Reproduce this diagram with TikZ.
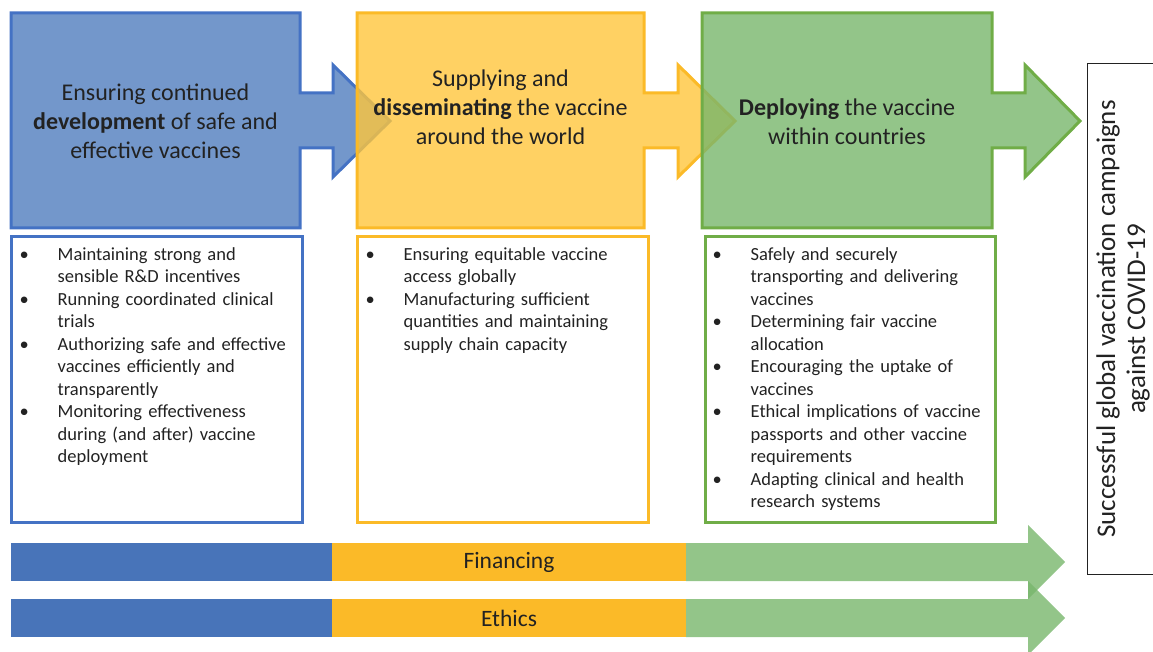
\documentclass[tikz,border=0pt]{standalone}
\usepackage{fontspec}
\setmainfont{Carlito}
\usetikzlibrary{positioning}

\definecolor{devblue}{RGB}{68,114,196}
\definecolor{devfill}{RGB}{80,125,190}
\definecolor{supgold}{RGB}{251,186,40}
\definecolor{supfill}{RGB}{255,198,60}
\definecolor{depgreen}{RGB}{112,173,71}
\definecolor{depfill}{RGB}{120,182,108}
\definecolor{barblue}{RGB}{72,116,185}
\definecolor{inktext}{RGB}{34,34,34}

\newcommand{\bitem}[1]{\par\hangindent=38pt\hangafter=1\noindent\makebox[38pt][l]{\textbullet}#1\par}

\begin{document}
\begin{tikzpicture}[
    x=1pt, y=-1pt,
    stage/.style={line width=3pt, line join=miter, fill opacity=0.8},
    stagetext/.style={align=center, text=inktext, font=\fontsize{24}{29}\selectfont},
    listbox/.style={draw, line width=3pt, minimum width=291pt, minimum height=285pt, inner sep=0pt},
    listtext/.style={inner sep=0pt, text width=278pt, align=left, text=inktext, font=\fontsize{18.5}{22.5}\selectfont},
    barlabel/.style={text=inktext, font=\fontsize{23.5}{28}\selectfont},
    bararrow/.style={fill=depfill, fill opacity=0.8}
  ]

  \useasboundingbox (0,0) rectangle (1153,652);

  % the three stages
  \filldraw[stage, draw=devblue, fill=devfill] (11,13) -- (300,13) -- (300,93) -- (333,93) -- (333,65)
    -- (390,121) -- (333,177) -- (333,148) -- (300,148) -- (300,228) -- (11,228) -- cycle;
  \filldraw[stage, draw=supgold, fill=supfill] (357,13) -- (644,13) -- (644,93) -- (678,93) -- (678,65)
    -- (735,121) -- (678,177) -- (678,148) -- (644,148) -- (644,228) -- (357,228) -- cycle;
  \filldraw[stage, draw=depgreen, fill=depfill] (702,13) -- (992,13) -- (992,93) -- (1025,93) -- (1025,65)
    -- (1080,121) -- (1025,177) -- (1025,148) -- (992,148) -- (992,228) -- (702,228) -- cycle;

  \node[stagetext] (develop) at (155.5,121) {Ensuring continued\\\textbf{development} of safe and\\effective vaccines};
  \node[stagetext] (supply) at (500.5,107) {Supplying and\\\textbf{disseminating} the vaccine\\around the world};
  \node[stagetext] (deploy) at (847,121.5) {\textbf{Deploying} the vaccine\\within countries};

  % lists under the stages
  \node[listbox, draw=devblue] (devlist) at (156.5,379.5) {};
  \node[listbox, draw=supgold] (suplist) at (502.5,379.5) {};
  \node[listbox, draw=depgreen, minimum width=290pt] (deplist) at (850,379.5) {};

  \node[listtext, below right=2pt and 10pt of devlist.north west] (devitems) {%
    \bitem{Maintaining strong and\newline sensible R\&D incentives}
    \bitem{Running coordinated clinical\newline trials}
    \bitem{Authorizing safe and effective\newline vaccines efficiently and\newline transparently}
    \bitem{Monitoring effectiveness\newline during (and after) vaccine\newline deployment}};
  \node[listtext, below right=2pt and 10pt of suplist.north west] (supitems) {%
    \bitem{Ensuring equitable vaccine\newline access globally}
    \bitem{Manufacturing sufficient\newline quantities and maintaining\newline supply chain capacity}};
  \node[listtext, below right=2pt and 9pt of deplist.north west] (depitems) {%
    \bitem{Safely and securely\newline transporting and delivering\newline vaccines}
    \bitem{Determining fair vaccine\newline allocation}
    \bitem{Encouraging the uptake of\newline vaccines}
    \bitem{Ethical implications of vaccine\newline passports and other vaccine\newline requirements}
    \bitem{Adapting clinical and health\newline research systems}};

  % cross-cutting bars
  \fill[barblue] (11,543) rectangle (332,581);
  \fill[supgold] (332,543) rectangle (686,581);
  \fill[bararrow] (686,543) -- (1028,543) -- (1028,525) -- (1065,562) -- (1028,599) -- (1028,581) -- (686,581) -- cycle;
  \node[barlabel] (financing) at (509,562) {Financing};

  \fill[barblue] (11,599) rectangle (332,637);
  \fill[supgold] (332,599) rectangle (686,637);
  \fill[bararrow] (686,599) -- (1028,599) -- (1028,581) -- (1065,618) -- (1028,655) -- (1028,637) -- (686,637) -- cycle;
  \node[barlabel] (ethics) at (509,618) {Ethics};

  % goal
  \node[draw=inktext, line width=1pt, anchor=west, minimum width=100pt, minimum height=510pt] (goalbox) at (1087,319) {};
  \node[rotate=90, align=center, text=inktext, font=\fontsize{27}{30}\selectfont] (goal) at ([xshift=36pt]goalbox.west)
    {Successful global vaccination campaigns\\against COVID-19};

\end{tikzpicture}
\end{document}
